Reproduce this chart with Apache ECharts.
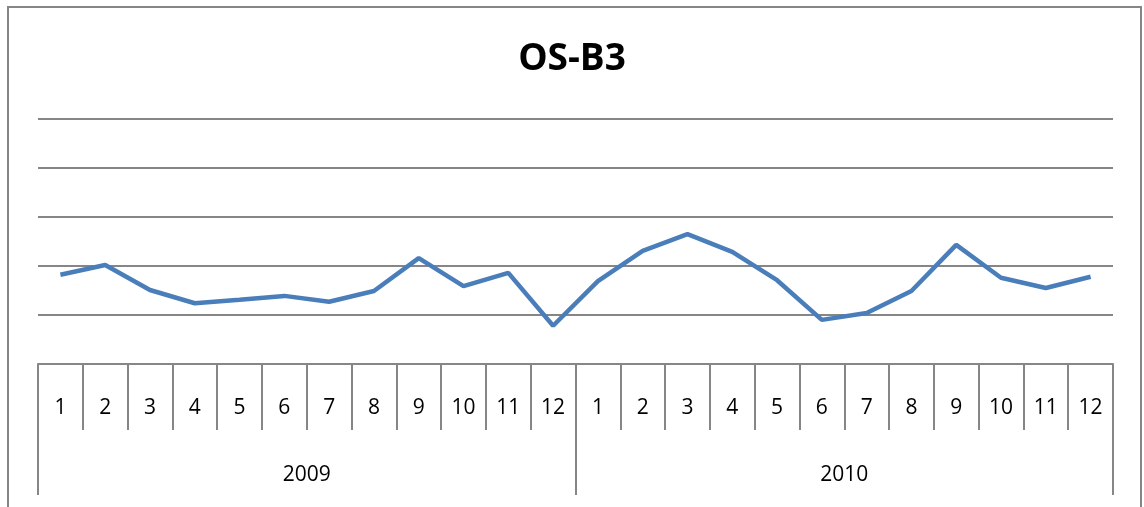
<!DOCTYPE html>
<html>
<head>
<meta charset="utf-8">
<script src="https://cdn.jsdelivr.net/npm/echarts@6/dist/echarts.min.js"></script>
<style>
  html, body { margin: 0; padding: 0; background: #fff; }
  #chart { width: 1144px; height: 507px; }
</style>
</head>
<body>
<div id="chart"></div>
<script>
// months for two years
const months = ["1", "2", "3", "4", "5", "6", "7", "8", "9", "10", "11", "12",
  "1", "2", "3", "4", "5", "6", "7", "8", "9", "10", "11", "12"]
const years = ["2009", "2010"]
const values = [1.82, 2.02, 1.51, 1.24, 1.31, 1.39, 1.27, 1.49, 2.16, 1.59, 1.86, 0.78,
  1.69, 2.31, 2.65, 2.29, 1.71, 0.90, 1.04, 1.49, 2.43, 1.76, 1.55, 1.78]

const gray = "#868686"
const font = "'Open Sans', sans-serif"

const chart = echarts.init(document.getElementById("chart"), null, { renderer: "canvas" })

chart.setOption({
  animation: false,
  title: {
    text: "OS-B3",
    left: "center",
    top: 36,
    textStyle: { fontFamily: font, fontSize: 37, fontWeight: "bold", color: "#000" }
  },
  // outer chart frame
  graphic: [{
    type: "rect",
    shape: { x: 8, y: 7, width: 1133, height: 540 },
    style: { fill: "none", stroke: gray, lineWidth: 2 },
    silent: true
  }],
  grid: { left: 38, right: 31, top: 119, bottom: 143 },
  xAxis: [
    {
      type: "category",
      data: months,
      boundaryGap: true,
      axisLine: { lineStyle: { color: gray, width: 2 } },
      axisTick: { show: true, interval: 0, length: 66, lineStyle: { color: gray, width: 2 } },
      axisLabel: { interval: 0, margin: 34, color: "#000", fontFamily: font, fontSize: 21 }
    },
    {
      type: "category",
      data: years,
      position: "bottom",
      boundaryGap: true,
      axisLine: { show: false },
      axisTick: { show: true, interval: 0, length: 131, lineStyle: { color: gray, width: 2 } },
      axisLabel: { interval: 0, margin: 101, color: "#000", fontFamily: font, fontSize: 21 }
    }
  ],
  yAxis: {
    type: "value",
    min: 0,
    max: 5,
    interval: 1,
    axisLine: { show: false },
    axisTick: { show: false },
    axisLabel: { show: false },
    splitLine: { lineStyle: { color: gray, width: 2 } }
  },
  series: [{
    type: "line",
    xAxisIndex: 0,
    data: values,
    symbol: "none",
    lineStyle: { color: "#4a7ebb", width: 4.5 },
    itemStyle: { color: "#4a7ebb" }
  }]
})
</script>
</body>
</html>
